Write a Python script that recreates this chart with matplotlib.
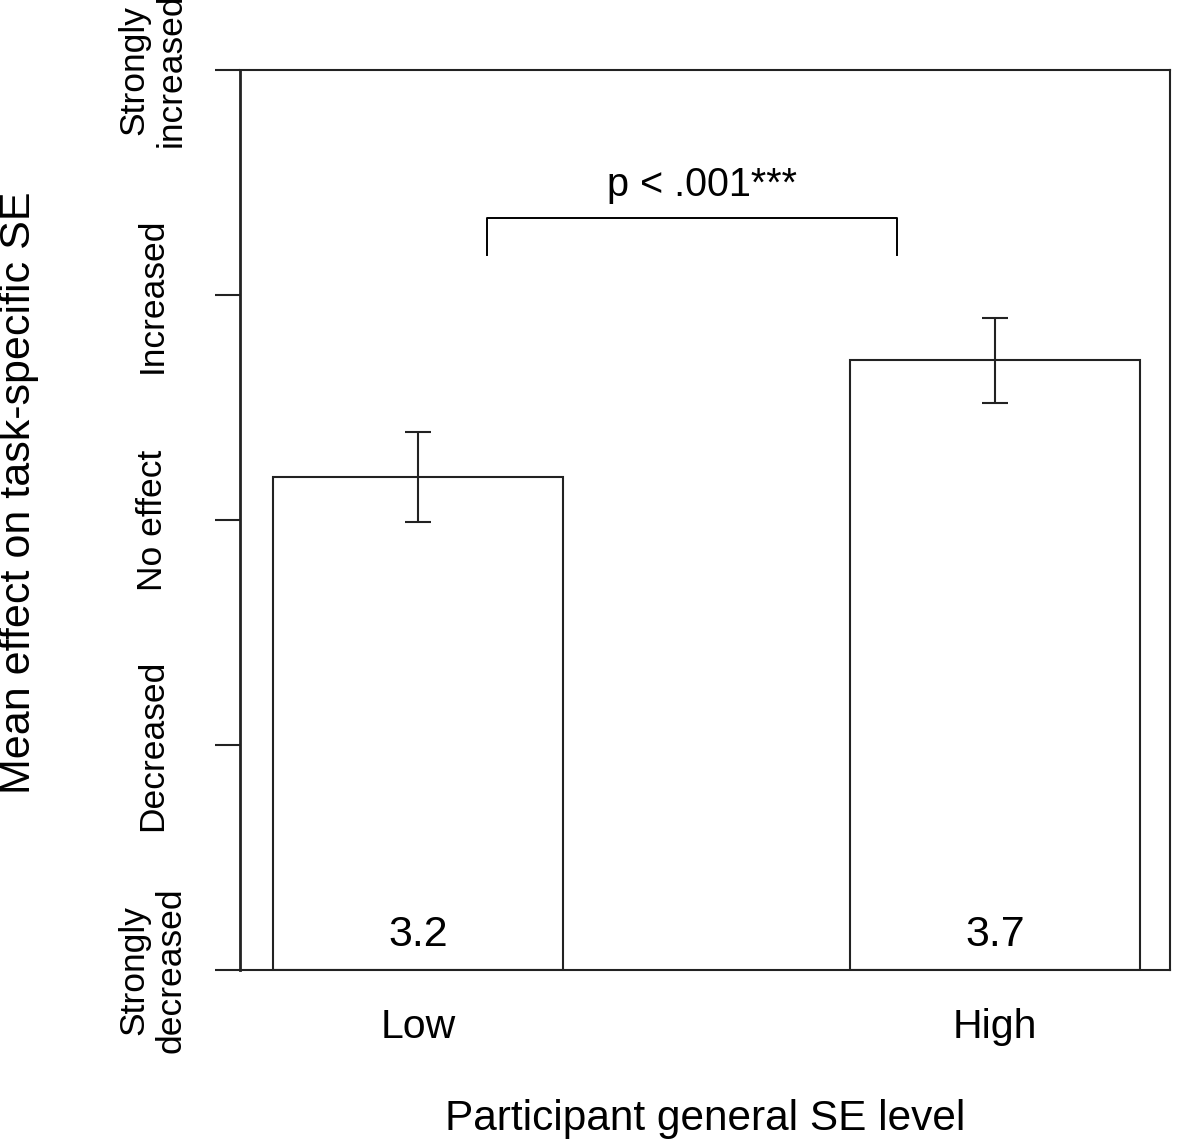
import matplotlib
matplotlib.use("Agg")
from matplotlib import pyplot as plt
from matplotlib import transforms

plt.rcParams['font.family'] = ['Liberation Sans', 'DejaVu Sans']

# --- data ---
groups = ["Low", "High"]
means = [3.19, 3.71]
errors = [0.20, 0.19]
value_labels = ["3.2", "3.7"]
y_ticks = [1, 2, 3, 4, 5]
y_tick_labels = ["Strongly\ndecreased", "Decreased", "No effect", "Increased", "Strongly\nincreased"]
p_text = "p < .001***"

col = "#222222"
lw = 1.5

fig = plt.figure(figsize=(11.81, 11.48), dpi=100)
ax = fig.add_axes([0.2032, 0.155, 0.7875, 0.784])

x = list(range(len(groups)))
ax.bar(x, [m - 1 for m in means], bottom=1, width=0.503, color="white",
       edgecolor=col, linewidth=lw, zorder=2)
ax.errorbar(x, means, yerr=errors, fmt="none", ecolor=col, elinewidth=lw,
            capsize=9.7, capthick=lw, zorder=3)

for xi, lab in zip(x, value_labels):
    ax.text(xi, 1.155, lab, ha="center", va="center", fontsize=31, color="black")

# significance bracket
bx0, bx1, btop, bleg = 0.12, 0.83, 4.342, 4.178
ax.plot([bx0, bx0, bx1, bx1], [bleg, btop, btop, bleg], color="black", lw=1.4)
ax.text((bx0 + bx1) / 2 + 0.017, 4.49, p_text, ha="center", va="center", fontsize=28.5)

ax.set_xlim(-0.3085, 1.303)
ax.set_ylim(1, 5)

for s in ax.spines.values():
    s.set_linewidth(lw)
    s.set_color(col)
ax.spines['left'].set_linewidth(2.0)

ax.set_xticks([])
ax.set_yticks(y_ticks)
ax.set_yticklabels([])
ax.tick_params(axis="y", length=18, width=lw, color=col, direction="out")

# y tick labels drawn rotated and centred, like the R axis labels
trans = transforms.blended_transform_factory(ax.transAxes, ax.transData)
for yt, lab in zip(y_ticks, y_tick_labels):
    ax.text(-0.094, yt, lab, transform=trans, rotation=90, ha="center", va="center",
            multialignment="center", fontsize=25.5, linespacing=1.15)

transx = transforms.blended_transform_factory(ax.transData, ax.transAxes)
for xi, g in zip(x, groups):
    ax.text(xi, -0.063, g, transform=transx, ha="center", va="center", fontsize=29.5)

fig.text(0.597, 0.025, "Participant general SE level", ha="center", va="center", fontsize=30.5)
fig.text(0.016, 0.571, "Mean effect on task-specific SE", ha="center", va="center",
         rotation=90, fontsize=31)

fig.savefig("out.png", dpi=100)
